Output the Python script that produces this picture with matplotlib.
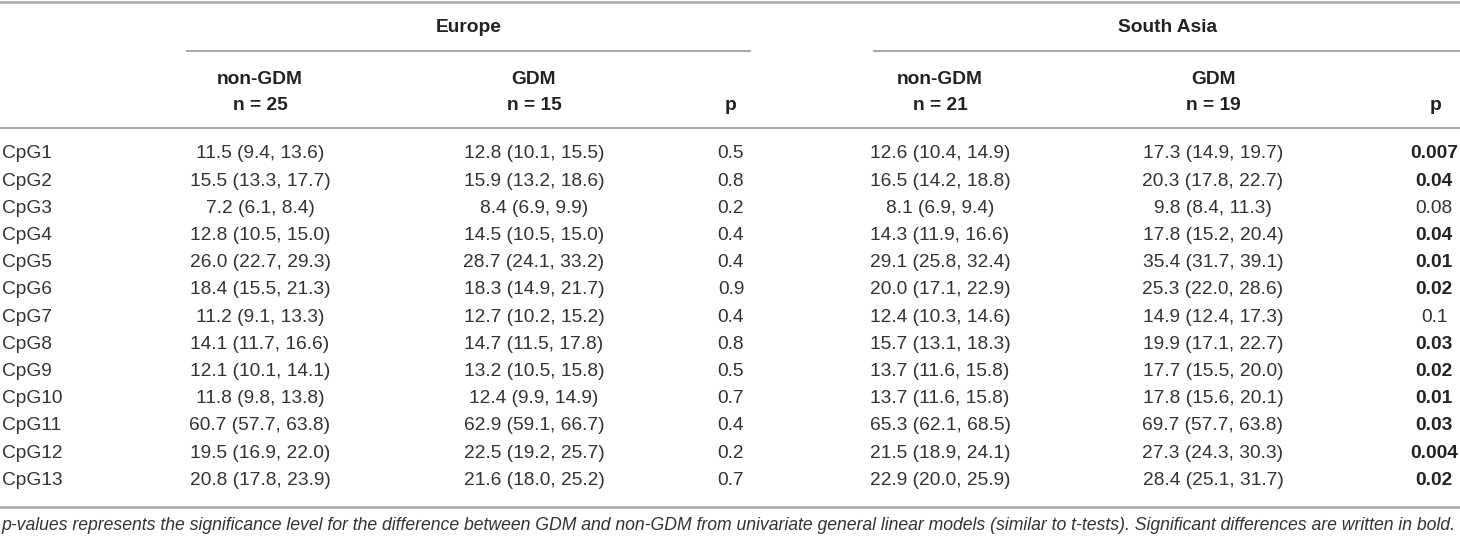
import matplotlib
matplotlib.use("Agg")
import matplotlib.pyplot as plt

# table contents
cpg = ["CpG1", "CpG2", "CpG3", "CpG4", "CpG5", "CpG6", "CpG7",
       "CpG8", "CpG9", "CpG10", "CpG11", "CpG12", "CpG13"]

eu_non_gdm = ["11.5 (9.4, 13.6)", "15.5 (13.3, 17.7)", "7.2 (6.1, 8.4)",
              "12.8 (10.5, 15.0)", "26.0 (22.7, 29.3)", "18.4 (15.5, 21.3)",
              "11.2 (9.1, 13.3)", "14.1 (11.7, 16.6)", "12.1 (10.1, 14.1)",
              "11.8 (9.8, 13.8)", "60.7 (57.7, 63.8)", "19.5 (16.9, 22.0)",
              "20.8 (17.8, 23.9)"]
eu_gdm = ["12.8 (10.1, 15.5)", "15.9 (13.2, 18.6)", "8.4 (6.9, 9.9)",
          "14.5 (10.5, 15.0)", "28.7 (24.1, 33.2)", "18.3 (14.9, 21.7)",
          "12.7 (10.2, 15.2)", "14.7 (11.5, 17.8)", "13.2 (10.5, 15.8)",
          "12.4 (9.9, 14.9)", "62.9 (59.1, 66.7)", "22.5 (19.2, 25.7)",
          "21.6 (18.0, 25.2)"]
eu_p = ["0.5", "0.8", "0.2", "0.4", "0.4", "0.9", "0.4",
        "0.8", "0.5", "0.7", "0.4", "0.2", "0.7"]

sa_non_gdm = ["12.6 (10.4, 14.9)", "16.5 (14.2, 18.8)", "8.1 (6.9, 9.4)",
              "14.3 (11.9, 16.6)", "29.1 (25.8, 32.4)", "20.0 (17.1, 22.9)",
              "12.4 (10.3, 14.6)", "15.7 (13.1, 18.3)", "13.7 (11.6, 15.8)",
              "13.7 (11.6, 15.8)", "65.3 (62.1, 68.5)", "21.5 (18.9, 24.1)",
              "22.9 (20.0, 25.9)"]
sa_gdm = ["17.3 (14.9, 19.7)", "20.3 (17.8, 22.7)", "9.8 (8.4, 11.3)",
          "17.8 (15.2, 20.4)", "35.4 (31.7, 39.1)", "25.3 (22.0, 28.6)",
          "14.9 (12.4, 17.3)", "19.9 (17.1, 22.7)", "17.7 (15.5, 20.0)",
          "17.8 (15.6, 20.1)", "69.7 (57.7, 63.8)", "27.3 (24.3, 30.3)",
          "28.4 (25.1, 31.7)"]
sa_p = ["0.007", "0.04", "0.08", "0.04", "0.01", "0.02", "0.1",
        "0.03", "0.02", "0.01", "0.03", "0.004", "0.02"]
sa_p_bold = [True, True, False, True, True, True, False,
             True, True, True, True, True, True]

footnote = ("p-values represents the significance level for the difference between GDM "
            "and non-GDM from univariate general linear models (similar to t-tests). "
            "Significant differences are written in bold.")

W, H = 1460, 538
fig = plt.figure(figsize=(W / 100, H / 100), dpi=100)
ax = fig.add_axes([0, 0, 1, 1])
ax.set_xlim(0, W)
ax.set_ylim(H, 0)
ax.axis("off")

font = ["Liberation Sans", "DejaVu Sans"]
body_c = "#333333"
head_c = "#222222"
line_c = "#a8a8a8"
fs = 13.8

# rules
ax.plot([0, W], [1.5, 1.5], color=line_c, lw=1.8)
ax.plot([187, 750], [51, 51], color=line_c, lw=1.4)
ax.plot([874, W], [51, 51], color=line_c, lw=1.4)
ax.plot([0, W], [128, 128], color=line_c, lw=1.4)
ax.plot([0, W], [507, 507], color=line_c, lw=1.8)

# header
hd = dict(family=font, fontsize=fs, fontweight="bold", color=head_c,
          ha="center", va="center")
ax.text(469, 28, "Europe", **hd)
ax.text(1167, 28, "South Asia", **hd)
for x, grp, n in [(260, "non-GDM", 25), (534, "GDM", 15),
                  (940, "non-GDM", 21), (1213, "GDM", 19)]:
    ax.text(x, 80, grp, **hd)
    ax.text(x, 105, "n = %d" % n, **hd)
ax.text(731, 105, "p", **hd)
ax.text(1436, 105, "p", **hd)

# body rows
y0, dy = 154, 27.2
bd = dict(family=font, fontsize=fs, va="center")
for i in range(len(cpg)):
    y = y0 + i * dy
    ax.text(2, y, cpg[i], ha="left", color=body_c, **bd)
    ax.text(260, y, eu_non_gdm[i], ha="center", color=body_c, **bd)
    ax.text(534, y, eu_gdm[i], ha="center", color=body_c, **bd)
    ax.text(731, y, eu_p[i], ha="center", color=body_c, **bd)
    ax.text(940, y, sa_non_gdm[i], ha="center", color=body_c, **bd)
    ax.text(1213, y, sa_gdm[i], ha="center", color=body_c, **bd)
    if sa_p_bold[i]:
        ax.text(1434, y, sa_p[i], ha="center", fontweight="bold",
                color=head_c, **bd)
    else:
        ax.text(1434, y, sa_p[i], ha="center", color=body_c, **bd)

# footnote, sized to span the table width
fn = ax.text(1, 525, footnote, family=font, fontsize=12, style="italic",
             color=body_c, ha="left", va="center")
fig.canvas.draw()
w = fn.get_window_extent().width
fn.set_fontsize(12 * 1455 / w)

fig.savefig("out.png", dpi=100)
